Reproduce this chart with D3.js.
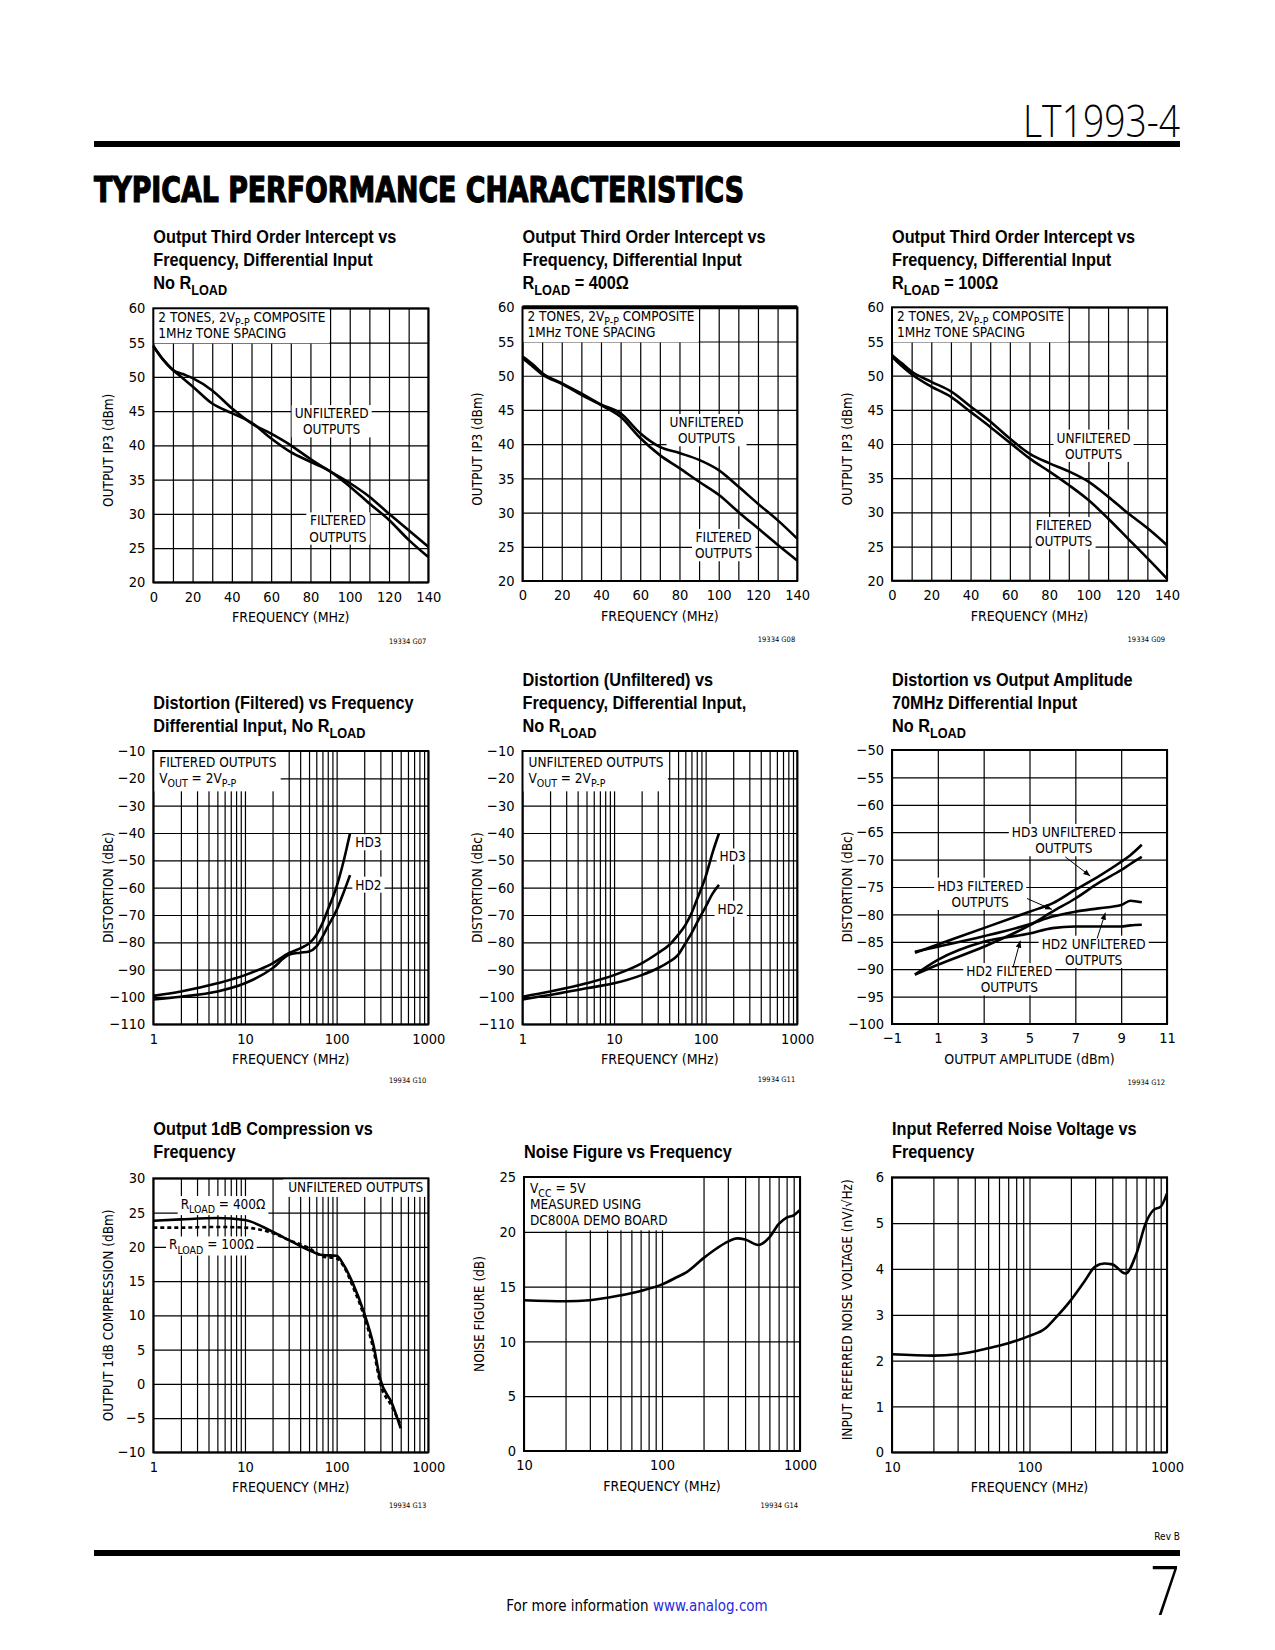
<!DOCTYPE html>
<html><head><meta charset="utf-8">
<script src="https://cdn.jsdelivr.net/npm/d3@7"></script>
<style>
body{margin:0;background:#fff;}
</style></head><body>
<svg id="page" width="1275" height="1650" xmlns="http://www.w3.org/2000/svg"></svg>
<script>
// ---------- DATA ----------
// G07: Output IP3 vs frequency, no RLOAD
const g07Freq = [0,5,10,15,20,30,40,50,60,70,80,90,100,110,120,130,140];
const g07Unfiltered = [54.5,52.5,51,50.4,49.8,48,45.4,43.2,41.7,40,38,36.2,34.5,32.5,30,27.6,25.2];
const g07Filtered   = [54.5,52.5,51,49.8,48.6,46.1,44.7,43.3,41,39,37.6,36.2,34,31.5,29.1,26.2,23.7];
// G08: RLOAD = 400 ohm
const g08Freq = [0,2,5,10,20,30,40,50,60,70,80,90,100,110,120,130,140];
const g08Unfiltered = [52.8,52.4,51.7,50.4,48.9,47.4,45.8,44.5,41.6,39.6,38.7,37.7,36.2,33.8,31.3,28.9,26.2];
const g08Filtered   = [52.6,52.1,51.4,50.2,48.8,47.2,45.7,44.0,40.9,38.4,36.5,34.5,32.6,30.1,27.7,25.3,23.0];
// G09: RLOAD = 100 ohm
const g09Freq = [0,2,5,10,20,30,40,50,60,70,80,90,100,110,120,130,140];
const g09Unfiltered = [53,52.5,51.8,50.6,49.1,47.7,45.5,43.3,40.8,38.6,37.2,36,34.5,32.3,29.9,27.7,25.2];
const g09Filtered   = [52.8,52.2,51.4,50.2,48.4,46.9,44.7,42.5,40.2,37.9,36,34,31.8,29.1,26.2,23.3,20.3];
// G10: Distortion (filtered) vs frequency
const g10Freq = [1,2,5,10,20,30,40,50,60,70,80,100,120,140];
const g10HD3 = [-99.6,-98,-95,-92,-87.7,-84,-82.2,-80.4,-77.3,-73,-68.2,-59.6,-49.9,-40.1];
const g10HD2 = [-100.9,-99.9,-98,-95,-89.5,-84.6,-83.8,-83.4,-81.6,-78,-74.3,-68.2,-61.5,-55.4];
// G11: Distortion (unfiltered) vs frequency
const g11Freq = [1,2,5,10,20,30,40,50,60,70,80,100,120,140];
const g11HD3 = [-99.9,-98,-95,-92,-87.7,-84,-81,-77.3,-73.7,-69.4,-64.5,-56,-46.8,-40.1];
const g11HD2 = [-100.9,-99.3,-96.8,-95,-92,-89.5,-87.1,-84.6,-80.4,-76.7,-73,-67,-62,-59];
// G12: Distortion vs output amplitude
const g12Amp = [0,1,3,5,6,7,8,9,9.4,9.9];
const g12HD3Unfiltered = [-87,-85.5,-82.5,-79.5,-78,-75.5,-73.1,-70.4,-69.2,-67.3];
const g12HD3Filtered   = [-91,-89.2,-85.9,-82,-79.5,-77.1,-74.3,-71.9,-70.8,-69.5];
const g12HD2Unfiltered = [-86.8,-85.9,-84,-81.8,-80.4,-79.5,-78.9,-78.3,-77.5,-77.8];
const g12HD2Filtered   = [-91,-88.3,-85,-83.5,-82.5,-82.2,-82.2,-82.2,-82,-81.9];
// G13: Output 1dB compression vs frequency
const g13Freq = [1,2,5,10,20,30,50,70,100,120,150,200,250,300,400,500];
const g13Rload400 = [23.8,24,24.2,23.9,22.2,21,19.5,18.8,18.7,17.3,14.7,10.3,5.9,0.6,-2.8,-6.5];
const g13Rload100 = [22.8,22.8,22.9,22.8,22,21,19.8,18.6,18.3,17.1,14.2,9.8,5.2,0,-3.3,-6];
// G14: Noise figure vs frequency
const g14Freq = [10,20,30,50,70,100,130,150,200,250,300,350,400,500,600,700,800,900,1000];
const g14NF = [13.76,13.67,13.76,14.2,14.6,15.2,15.9,16.3,17.6,18.5,19.1,19.4,19.3,18.8,19.5,20.7,21.3,21.5,22];
// Input referred noise voltage vs frequency
const nvFreq = [10,20,30,50,70,100,130,150,200,250,300,350,400,500,600,700,800,900,1000];
const nvNoise = [2.14,2.11,2.14,2.27,2.38,2.54,2.7,2.89,3.32,3.72,4.05,4.12,4.1,3.9,4.34,5.0,5.29,5.36,5.65];

// tick values
const ip3XLabels = [0,20,40,60,80,100,120,140];
const ip3YTicks = [20,25,30,35,40,45,50,55,60];
const distYTicks = [-110,-100,-90,-80,-70,-60,-50,-40,-30,-20,-10];
const logLabels3 = [1,10,100,1000];
const logLabels2 = [10,100,1000];
const ampXLabels = [-1,1,3,5,7,9,11];
const ampYTicks = [-100,-95,-90,-85,-80,-75,-70,-65,-60,-55,-50];
const compYTicks = [-10,-5,0,5,10,15,20,25,30];
const nfYTicks = [0,5,10,15,20,25];
const nvYTicks = [0,1,2,3,4,5,6];

// ---------- DRAWING ----------
const NARROW = '"DejaVu Sans Condensed","Liberation Sans Narrow",sans-serif';
const TITLEF = '"Liberation Sans",Arial,sans-serif';
const svg = d3.select("#page");
svg.append("rect").attr("width",1275).attr("height",1650).attr("fill","#fff");
const defs = svg.append("defs");
defs.append("marker").attr("id","arr").attr("viewBox","0 0 10 10").attr("refX",10).attr("refY",5)
  .attr("markerWidth",7).attr("markerHeight",7).attr("markerUnits","userSpaceOnUse").attr("orient","auto")
  .append("path").attr("d","M0,1 L10,5 L0,9 Z").attr("fill","#000");

const fmt = d3.format("d");

function richText(sel, str, fs){
  const parts = str.split(/(_\{[^}]*\})/).filter(s => s.length);
  let shifted = false;
  parts.forEach(p => {
    if (p.startsWith("_{")) {
      sel.append("tspan").text(p.slice(2,-1)).attr("font-size", fs*0.78).attr("dy", fs*0.3);
      shifted = true;
    } else {
      const t = sel.append("tspan").text(p);
      if (shifted) { t.attr("dy", -fs*0.3); shifted = false; }
    }
  });
}

function logGrid(dom){
  const v = [];
  for (let d = dom[0]; d < dom[1]; d *= 10) for (let k = 1; k < 10; k++) v.push(d*k);
  v.push(dom[1]);
  return v;
}

function drawChart(c){
  const g = svg.append("g");
  const F = c.frame, W = F.r - F.l, H = F.b - F.t;
  const x = (c.xlog ? d3.scaleLog() : d3.scaleLinear()).domain(c.xDomain).range([F.l, F.r]);
  const y = d3.scaleLinear().domain(c.yDomain).range([F.b, F.t]);

  // title
  c.title.forEach((ln, i) => {
    const t = g.append("text").attr("transform", `translate(${F.l},${c.titleY[i]}) scale(0.88,1)`)
      .attr("font-family", TITLEF).attr("font-weight","bold").attr("font-size", 18.5);
    richText(t, ln, 18.5);
  });

  const xGrid = c.xlog ? logGrid(c.xDomain) : d3.range(c.xDomain[0], c.xDomain[1] + 1e-9, c.xStep);
  const gx = g.append("g").attr("transform", `translate(0,${F.b})`)
    .call(d3.axisBottom(x).tickValues(xGrid).tickSize(-H).tickPadding(9)
      .tickFormat(d => c.xLabels.some(v => Math.abs(v - d) < 1e-9) ? fmt(d) : ""));
  const gy = g.append("g").attr("transform", `translate(${F.l},0)`)
    .call(d3.axisLeft(y).tickValues(c.yTicks).tickSize(-W).tickPadding(8).tickFormat(fmt));
  [gx, gy].forEach(a => {
    a.attr("font-family", NARROW).attr("font-size", 14.5);
    a.select(".domain").remove();
    a.selectAll("line").attr("stroke", "#000").attr("stroke-width", 1.2);
    a.selectAll("text").attr("fill", "#000");
  });

  // corner note box
  if (c.note) {
    const n = c.note;
    const ng = g.append("g");
    const rect = ng.append("rect").attr("fill", "#fff");
    const tg = ng.append("g");
    n.lines.forEach((ln, i) => {
      const t = tg.append("text").attr("font-family", NARROW).attr("font-size", 13.5)
        .attr("y", F.t + n.y0 + i*n.lh);
      if (n.align === "right") t.attr("x", F.r - n.dx).attr("text-anchor","end");
      else t.attr("x", F.l + n.dx);
      richText(t, ln, 13.5);
    });
    const bb = tg.node().getBBox();
    if (n.align === "right") {
      rect.attr("x", bb.x - 5).attr("y", F.t).attr("width", F.r - bb.x + 5).attr("height", bb.y + bb.height + 2 - F.t);
    } else {
      rect.attr("x", F.l).attr("y", F.t).attr("width", bb.x + bb.width + 4 - F.l).attr("height", bb.y + bb.height + 2 - F.t);
    }
  }

  // frame
  g.append("rect").attr("x", F.l).attr("y", F.t).attr("width", W).attr("height", H)
    .attr("fill","none").attr("stroke","#000").attr("stroke-width", 2);
  if (c.thickTop) g.append("line").attr("x1",F.l).attr("x2",F.r).attr("y1",F.t).attr("y2",F.t).attr("stroke","#000").attr("stroke-width",4);

  // labels
  (c.labels || []).forEach(L => {
    const lg = g.append("g");
    const rect = lg.append("rect").attr("fill","#fff");
    const tg = lg.append("g");
    L.lines.forEach((ln, i) => {
      const t = tg.append("text").attr("font-family", NARROW).attr("font-size", 13.5)
        .attr("x", x(L.x)).attr("y", y(L.y) + i*16.3).attr("dy","0.35em")
        .attr("text-anchor", L.anchor || "middle");
      richText(t, ln, 13.5);
    });
    const bb = tg.node().getBBox();
    rect.attr("x", bb.x - 3).attr("y", bb.y).attr("width", bb.width + 6).attr("height", bb.height);
  });

  // arrows
  (c.arrows || []).forEach(A => {
    g.append("line").attr("x1", x(A[0])).attr("y1", y(A[1])).attr("x2", x(A[2])).attr("y2", y(A[3]))
      .attr("stroke","#000").attr("stroke-width",1).attr("marker-end","url(#arr)");
  });

  // curves
  const line = d3.line().x(d => x(d[0])).y(d => y(d[1])).curve(d3.curveMonotoneX);
  c.series.forEach(s => {
    g.append("path").datum(s.xs.map((v,i) => [v, s.ys[i]])).attr("d", line)
      .attr("fill","none").attr("stroke","#000").attr("stroke-width", 2.6)
      .attr("stroke-linejoin","round").attr("stroke-dasharray", s.dash || null);
  });

  // axis titles
  g.append("text").attr("x", (F.l + F.r)/2).attr("y", F.b + 40).attr("text-anchor","middle")
    .attr("font-family", NARROW).attr("font-size", 14).text(c.xTitle);
  g.append("text").attr("transform", `translate(${F.l - 45},${(F.t + F.b)/2 + (c.yTitleShift||0)}) rotate(-90)`)
    .attr("text-anchor","middle").attr("dy","0.35em").attr("font-family", NARROW).attr("font-size", 13.5).text(c.yTitle);
  if (c.tag) g.append("text").attr("x", F.r - 2).attr("y", c.tagY).attr("text-anchor","end")
    .attr("font-family", NARROW).attr("font-size", 7.5).text(c.tag);
}

const COL = [{l:153.3, r:428.3},{l:522.5, r:797.2},{l:892, r:1167}];
const ip3Note = {lines:["2 TONES, 2V_{P-P} COMPOSITE","1MHz TONE SPACING"], dx:5, y0:13.6, lh:16.4};
const distTitleX = "FREQUENCY (MHz)";

const charts = [
 { frame:{l:COL[0].l, r:COL[0].r, t:308.3, b:582.3}, title:["Output Third Order Intercept vs","Frequency, Differential Input","No R_{LOAD}"], titleY:[243,266,289],
   xDomain:[0,140], xStep:10, xLabels:ip3XLabels, yDomain:[20,60], yTicks:ip3YTicks, note:ip3Note,
   xTitle:distTitleX, yTitle:"OUTPUT IP3 (dBm)", tag:"19334 G07", tagY:644, yTitleShift:5,
   labels:[{x:90.8,y:44.66,lines:["UNFILTERED","OUTPUTS"]},{x:94,y:29.0,lines:["FILTERED","OUTPUTS"]}],
   series:[{xs:g07Freq, ys:g07Unfiltered},{xs:g07Freq, ys:g07Filtered}] },
 { frame:{l:COL[1].l, r:COL[1].r, t:307.3, b:581}, title:["Output Third Order Intercept vs","Frequency, Differential Input","R_{LOAD} = 400Ω"], titleY:[243,266,289],
   xDomain:[0,140], xStep:10, xLabels:ip3XLabels, yDomain:[20,60], yTicks:ip3YTicks, note:ip3Note, thickTop:true,
   xTitle:distTitleX, yTitle:"OUTPUT IP3 (dBm)", tag:"19334 G08", tagY:642, yTitleShift:5,
   labels:[{x:93.8,y:43.2,lines:["UNFILTERED","OUTPUTS"]},{x:102.5,y:26.4,lines:["FILTERED","OUTPUTS"]}],
   series:[{xs:g08Freq, ys:g08Unfiltered},{xs:g08Freq, ys:g08Filtered}] },
 { frame:{l:COL[2].l, r:COL[2].r, t:307.3, b:580.7}, title:["Output Third Order Intercept vs","Frequency, Differential Input","R_{LOAD} = 100Ω"], titleY:[243,266,289],
   xDomain:[0,140], xStep:10, xLabels:ip3XLabels, yDomain:[20,60], yTicks:ip3YTicks, note:ip3Note,
   xTitle:distTitleX, yTitle:"OUTPUT IP3 (dBm)", tag:"19334 G09", tagY:642, yTitleShift:5,
   labels:[{x:102.6,y:40.9,lines:["UNFILTERED","OUTPUTS"]},{x:87.4,y:28.1,lines:["FILTERED","OUTPUTS"]}],
   series:[{xs:g09Freq, ys:g09Unfiltered},{xs:g09Freq, ys:g09Filtered}] },
 { frame:{l:COL[0].l, r:COL[0].r, t:751, b:1024.3}, title:["Distortion (Filtered) vs Frequency","Differential Input, No R_{LOAD}"], titleY:[709,732],
   xlog:true, xDomain:[1,1000], xLabels:logLabels3, yDomain:[-110,-10], yTicks:distYTicks,
   note:{lines:["FILTERED OUTPUTS","V_{OUT} = 2V_{P-P}"], dx:6, y0:15.7, lh:16.6},
   xTitle:distTitleX, yTitle:"DISTORTION (dBc)", tag:"19934 G10", tagY:1083,
   labels:[{x:160,y:-43.5,lines:["HD3"],anchor:"start"},{x:160,y:-59,lines:["HD2"],anchor:"start"}],
   series:[{xs:g10Freq, ys:g10HD3},{xs:g10Freq, ys:g10HD2}] },
 { frame:{l:COL[1].l, r:COL[1].r, t:751, b:1024.3}, title:["Distortion (Unfiltered) vs","Frequency, Differential Input,","No R_{LOAD}"], titleY:[686,709,732],
   xlog:true, xDomain:[1,1000], xLabels:logLabels3, yDomain:[-110,-10], yTicks:distYTicks,
   note:{lines:["UNFILTERED OUTPUTS","V_{OUT} = 2V_{P-P}"], dx:6, y0:15.7, lh:16.6},
   xTitle:distTitleX, yTitle:"DISTORTION (dBc)", tag:"19934 G11", tagY:1082,
   labels:[{x:142,y:-48.7,lines:["HD3"],anchor:"start"},{x:135,y:-67.8,lines:["HD2"],anchor:"start"}],
   series:[{xs:g11Freq, ys:g11HD3},{xs:g11Freq, ys:g11HD2}] },
 { frame:{l:COL[2].l, r:COL[2].r, t:750, b:1024}, title:["Distortion vs Output Amplitude","70MHz Differential Input","No R_{LOAD}"], titleY:[686,709,732],
   xDomain:[-1,11], xStep:2, xLabels:ampXLabels, yDomain:[-100,-50], yTicks:ampYTicks,
   xTitle:"OUTPUT AMPLITUDE (dBm)", yTitle:"DISTORTION (dBc)", tag:"19934 G12", tagY:1085,
   labels:[{x:6.5,y:-65,lines:["HD3 UNFILTERED","OUTPUTS"]},{x:2.85,y:-74.8,lines:["HD3 FILTERED","OUTPUTS"]},
           {x:7.8,y:-85.4,lines:["HD2 UNFILTERED","OUTPUTS"]},{x:4.12,y:-90.4,lines:["HD2 FILTERED","OUTPUTS"]}],
   arrows:[[6.56,-69.5,7.65,-73.0],[4.89,-77.1,5.98,-79.1],[7.95,-84.4,8.31,-79.7],[4.28,-89.7,4.6,-84.8]],
   series:[{xs:g12Amp, ys:g12HD3Unfiltered},{xs:g12Amp, ys:g12HD3Filtered},{xs:g12Amp, ys:g12HD2Unfiltered},{xs:g12Amp, ys:g12HD2Filtered}] },
 { frame:{l:COL[0].l, r:COL[0].r, t:1178.3, b:1452.3}, title:["Output 1dB Compression vs","Frequency"], titleY:[1135,1158],
   xlog:true, xDomain:[1,1000], xLabels:logLabels3, yDomain:[-10,30], yTicks:compYTicks,
   note:{lines:["UNFILTERED OUTPUTS"], dx:5, y0:13.6, lh:16, align:"right"},
   xTitle:distTitleX, yTitle:"OUTPUT 1dB COMPRESSION (dBm)", tag:"19934 G13", tagY:1508,
   labels:[{x:5.76,y:26.2,lines:["R_{LOAD} = 400Ω"]},{x:4.3,y:20.3,lines:["R_{LOAD} = 100Ω"]}],
   series:[{xs:g13Freq, ys:g13Rload400},{xs:g13Freq, ys:g13Rload100, dash:"4,3"}] },
 { frame:{l:COL[1].l+1.5, r:COL[1].r+2.8, t:1177, b:1451}, title:["Noise Figure vs Frequency"], titleY:[1158],
   xlog:true, xDomain:[10,1000], xLabels:logLabels2, yDomain:[0,25], yTicks:nfYTicks,
   note:{lines:["V_{CC} = 5V","MEASURED USING","DC800A DEMO BOARD"], dx:6, y0:16.3, lh:16},
   xTitle:distTitleX, yTitle:"NOISE FIGURE (dB)", tag:"19934 G14", tagY:1508,
   series:[{xs:g14Freq, ys:g14NF}] },
 { frame:{l:COL[2].l, r:COL[2].r, t:1177.3, b:1452.3}, title:["Input Referred Noise Voltage vs","Frequency"], titleY:[1135,1158],
   xlog:true, xDomain:[10,1000], xLabels:logLabels2, yDomain:[0,6], yTicks:nvYTicks,
   xTitle:distTitleX, yTitle:"INPUT REFERRED NOISE VOLTAGE (nV/√Hz)", yTitleShift:-5,
   series:[{xs:nvFreq, ys:nvNoise}] }
];
charts.forEach(drawChart);

// ---------- PAGE FURNITURE ----------
svg.append("text").attr("x",1180).attr("y",137).attr("text-anchor","end")
  .attr("font-family",'"Open Sans",sans-serif').attr("font-weight",300).attr("font-size",44)
  .attr("textLength",157).attr("lengthAdjust","spacingAndGlyphs").text("LT1993-4");
svg.append("rect").attr("x",94).attr("y",141).attr("width",1086).attr("height",6).attr("fill","#000");
svg.append("text").attr("x",94).attr("y",202).attr("font-family",NARROW).attr("font-weight","bold")
  .attr("font-size",36).attr("stroke","#000").attr("stroke-width",1.2)
  .attr("textLength",650).attr("lengthAdjust","spacingAndGlyphs").text("TYPICAL PERFORMANCE CHARACTERISTICS");

svg.append("text").attr("x",1180).attr("y",1540).attr("text-anchor","end")
  .attr("font-family",NARROW).attr("font-size",10).text("Rev B");
svg.append("rect").attr("x",94).attr("y",1550).attr("width",1086).attr("height",6).attr("fill","#000");
svg.append("text").attr("x",1180).attr("y",1615).attr("text-anchor","end")
  .attr("font-family",'"Open Sans",sans-serif').attr("font-weight",300).attr("font-size",68)
  .attr("textLength",30).attr("lengthAdjust","spacingAndGlyphs").text("7");
const foot = svg.append("text").attr("x",637).attr("y",1611).attr("text-anchor","middle")
  .attr("font-family",NARROW).attr("font-size",15);
foot.append("tspan").text("For more information ");
foot.append("tspan").attr("fill","#2a2ad8").text("www.analog.com");
</script>
</body></html>
